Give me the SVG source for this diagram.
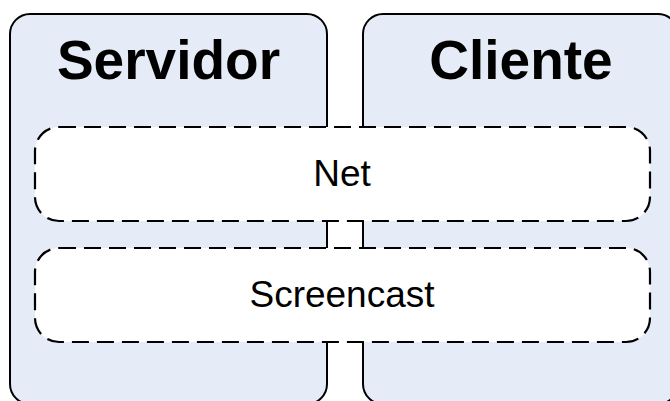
<svg xmlns="http://www.w3.org/2000/svg" width="670" height="401" viewBox="0 0 670 401">
  <style>
    .side { fill: #e6ecf7; stroke: #000; stroke-width: 2; }
    .layer { fill: #fff; stroke: #000; stroke-width: 2.2; stroke-dasharray: 17 8; }
    .title { font-family: "Liberation Sans", Arial, sans-serif; font-weight: bold; font-size: 55px; text-anchor: middle; fill: #000; }
    .label { font-family: "Liberation Sans", Arial, sans-serif; font-size: 37px; text-anchor: middle; fill: #000; }
  </style>
  <rect width="670" height="401" fill="#fff"/>

  <!-- Server and client columns -->
  <g id="servidor">
    <rect class="side" x="10" y="14" width="317" height="390" rx="20" ry="20"/>
    <text class="title" x="168.5" y="79">Servidor</text>
  </g>
  <g id="cliente">
    <rect class="side" x="363" y="14" width="315" height="390" rx="20" ry="20"/>
    <text class="title" x="521" y="79">Cliente</text>
  </g>

  <!-- Shared layers spanning both columns -->
  <g id="net">
    <rect class="layer" x="35" y="127" width="615" height="94" rx="24" ry="24"/>
    <text class="label" x="342" y="186">Net</text>
  </g>
  <g id="screencast">
    <rect class="layer" x="35" y="248" width="615" height="94" rx="24" ry="24"/>
    <text class="label" x="342" y="307">Screencast</text>
  </g>

  <g id="connectors"/>
</svg>
